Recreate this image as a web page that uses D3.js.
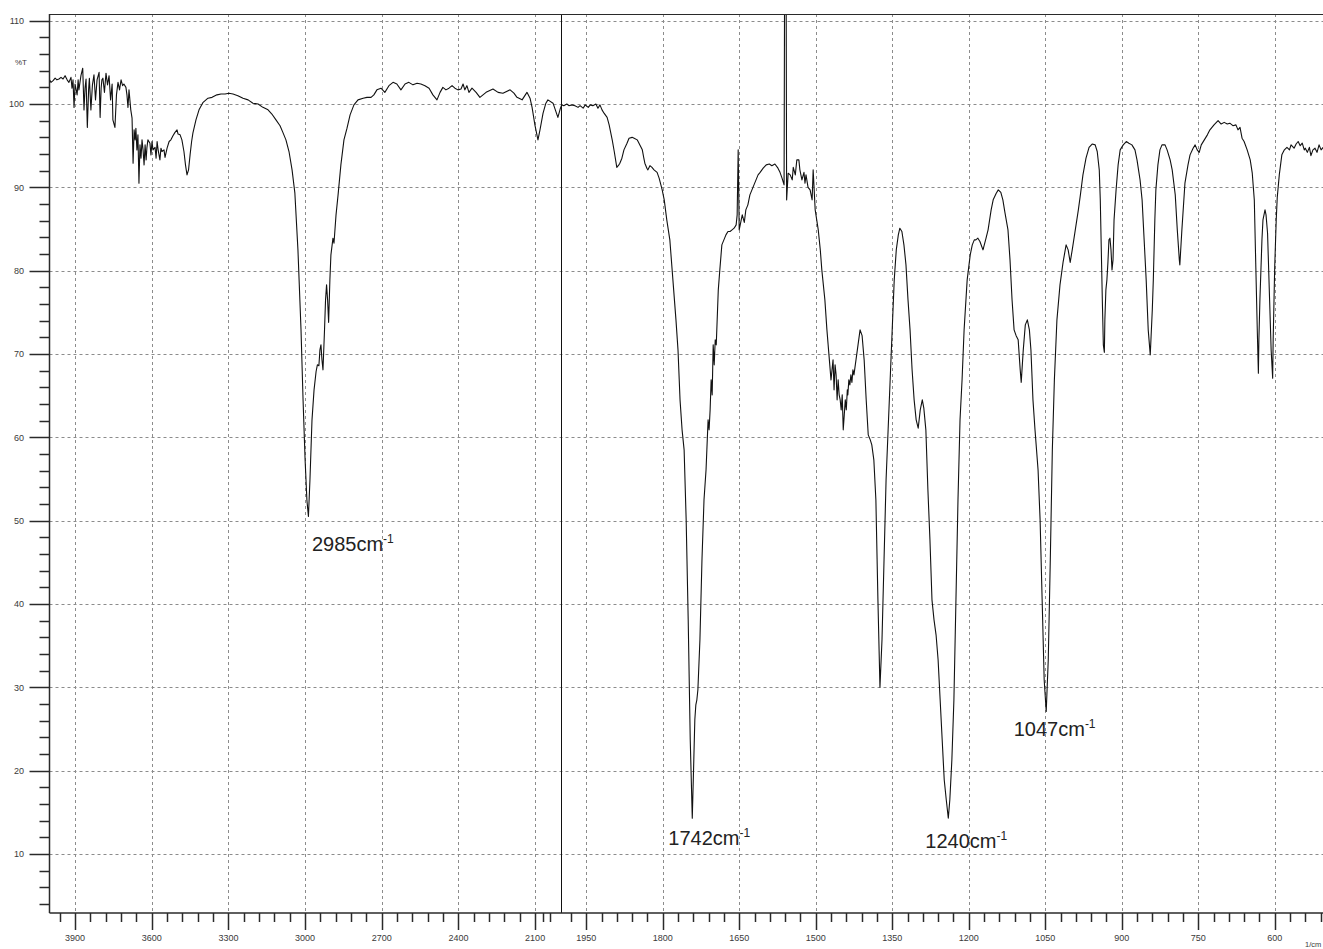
<!DOCTYPE html>
<html>
<head>
<meta charset="utf-8">
<script src="https://cdn.jsdelivr.net/npm/d3@7"></script>
<style>
  html, body { margin: 0; padding: 0; background: #fff; }
  svg { display: block; }
  text { font-family: "Liberation Sans", Arial, sans-serif; }
</style>
</head>
<body>
<svg id="chart" width="1323" height="949"></svg>
<script>
// ---------------- data ----------------
const wavenumber = [
4000,3994,3986,3978,3971,3963,3955,3947,3939,3931,3924,3916,3912,3908,3904,3900,3892,3888,3885,3877,
3870,3865,3861,3857,3852,3847,3844,3838,3832,3826,3820,3814,3806,3802,3798,3795,3791,3785,3779,3773,
3767,3761,3755,3752,3744,3738,3732,3726,3720,3714,3709,3701,3697,3693,3689,3682,3677,3673,3669,3665,
3662,3658,3654,3650,3646,3642,3638,3634,3630,3626,3622,3619,3615,3607,3603,3599,3595,3587,3583,3579,
3575,3568,3564,3560,3552,3548,3540,3532,3525,3517,3509,3501,3497,3489,3482,3474,3468,3462,3456,3450,
3444,3439,3427,3415,3399,3380,3364,3345,3329,3313,3298,3282,3263,3243,3223,3204,3184,3165,3145,3130,
3114,3098,3087,3075,3063,3051,3040,3028,3016,3008,3000,2993,2987,2981,2973,2965,2957,2952,2946,2942,
2938,2934,2930,2924,2920,2916,2912,2908,2903,2899,2891,2887,2879,2871,2860,2848,2836,2824,2809,2793,
2773,2758,2742,2731,2719,2703,2688,2672,2656,2641,2625,2609,2594,2578,2562,2547,2531,2515,2500,2484,
2472,2461,2449,2437,2425,2414,2402,2390,2382,2375,2367,2359,2347,2331,2316,2292,2265,2245,2226,2198,
2183,2171,2151,2132,2120,2112,2101,2089,2081,2069,2058,2050,2030,2011,2001,
1998,1994,1988,1984,1978,1972,1966,1962,1956,1952,1946,1942,1937,1931,1927,1923,1919,1915,1909,1905,
1899,1895,1890,1886,1884,1880,1876,1870,1866,1860,1856,1850,1844,1840,1837,1835,1831,1829,1825,1821,
1817,1811,1807,1801,1797,1792,1786,1780,1774,1770,1766,1762,1758,1754,1750,1746,1742,1739,1737,1735,
1733,1731,1727,1723,1719,1715,1711,1709,1707,1705,1703,1701,1699,1697,1695,1691,1688,1684,1680,1676,
1672,1668,1664,1660,1656,1654,1652,1650,1648,1644,1640,1637,1633,1629,1625,1621,1617,1613,1609,1603,
1597,1591,1586,1580,1574,1570,1566,1562,1561,1558,1557,1554,1550,1546,1544,1540,1537,1533,1531,1527,
1523,1521,1519,1515,1511,1507,1505,1501,1495,1491,1488,1482,1478,1474,1470,1468,1466,1464,1462,1460,
1458,1456,1454,1452,1450,1448,1446,1444,1442,1440,1438,1437,1435,1433,1431,1429,1427,1425,1421,1417,
1413,1409,1405,1401,1397,1393,1390,1386,1382,1378,1374,1370,1366,1362,1358,1354,1350,1346,1342,1338,
1335,1331,1327,1323,1319,1315,1311,1307,1303,1299,1295,1291,1288,1284,1280,1276,1272,1268,1264,1260,
1256,1252,1248,1244,1240,1237,1233,1229,1225,1221,1217,1213,1209,1203,1197,1193,1189,1186,1182,1178,
1172,1166,1162,1156,1152,1146,1142,1137,1133,1129,1123,1119,1115,1111,1107,1103,1099,1097,1093,1089,
1085,1081,1078,1074,1070,1064,1060,1056,1052,1048,1044,1040,1036,1032,1027,1021,1015,1009,1005,1001,
997,991,985,981,976,970,964,958,952,948,944,942,940,938,936,934,933,931,929,927,
925,923,921,919,917,915,911,907,903,897,891,886,880,874,870,864,860,856,852,848,
844,840,838,835,833,829,825,821,815,811,805,801,795,791,787,786,782,776,770,766,
760,756,752,748,744,738,732,727,719,711,705,699,693,688,682,676,672,668,664,660,
654,648,644,640,637,634,632,631,629,625,623,619,617,614,610,607,604,603,600,597,
595,591,586,581,576,571,568,562,558,554,550,546,542,540,536,532,529,525,521,517,
513,509,505
];
const transmittance = [
102.9,102.6,102.8,103.1,102.9,103.0,103.2,103.0,103.4,102.9,102.6,103.2,101.9,102.9,99.6,102.4,101.1,102.9,101.7,103.4,
104.3,99.3,101.9,103.0,97.2,101.7,103.1,99.3,102.3,103.5,100.5,102.9,103.8,98.4,101.9,102.9,103.1,101.4,103.7,102.3,
103.4,100.5,102.4,98.1,97.2,101.1,102.6,101.7,102.9,102.2,102.4,102.0,101.1,99.6,101.7,99.3,98.3,92.9,96.9,95.7,
97.1,94.5,96.3,90.5,95.1,93.5,95.7,94.5,92.7,95.1,93.3,94.7,95.7,95.3,93.9,95.5,94.5,94.8,93.5,95.5,
94.5,93.3,94.7,94.3,94.5,93.6,94.7,95.5,95.7,96.2,96.6,96.9,96.4,96.3,95.7,94.3,92.7,91.5,92.1,93.9,
95.5,96.5,98.1,99.3,100.2,100.7,100.8,101.1,101.2,101.2,101.3,101.2,101.0,100.7,100.5,100.1,100.0,99.6,99.3,98.8,
98.1,97.4,96.6,95.7,94.3,92.1,89.3,82.5,72.9,64.5,57.3,52.5,50.5,54.9,62.1,65.7,67.9,68.7,68.6,70.5,
71.1,69.3,68.1,72.9,76.5,78.3,76.5,73.8,78.9,81.9,83.9,83.3,86.7,89.1,92.7,95.7,97.1,98.7,99.9,100.5,
100.7,100.8,100.8,101.1,101.7,101.9,101.4,102.2,102.6,102.4,101.7,102.4,102.6,102.3,102.5,102.4,102.2,101.9,101.1,100.5,
101.4,102.0,101.7,101.9,102.2,101.9,101.7,101.8,102.4,101.7,102.2,101.4,101.9,101.4,100.8,101.4,101.8,101.4,101.3,101.7,
101.3,100.8,100.5,101.4,100.7,99.6,97.5,95.7,96.9,98.9,100.1,100.5,100.1,98.4,99.5,
99.9,99.8,100.0,99.8,99.9,99.8,99.6,99.8,99.5,99.9,99.6,99.9,99.8,100.0,99.5,99.9,99.3,98.9,98.4,97.5,
95.7,94.3,92.4,92.7,92.9,93.5,94.5,95.3,95.9,96.0,95.9,95.7,95.0,94.5,93.5,92.9,92.3,92.1,92.6,92.4,
92.1,91.8,91.1,89.7,88.5,86.1,83.7,78.9,74.1,70.5,64.5,60.9,58.5,50.1,38.1,23.7,14.3,21.3,26.1,27.9,
28.5,29.7,35.7,45.3,52.5,56.1,62.1,60.9,63.3,66.9,65.1,71.1,68.7,71.7,71.1,77.7,80.1,83.1,83.7,84.3,
84.7,84.7,84.9,85.1,85.5,86.7,94.5,84.9,85.5,86.7,85.8,87.3,87.9,89.1,89.7,90.3,90.9,91.5,91.8,92.3,
92.7,92.8,92.6,92.8,92.3,91.8,91.1,90.3,115,115,88.5,91.7,91.5,90.9,92.4,91.5,93.3,93.3,92.1,90.9,
91.8,90.5,91.5,90.0,89.7,88.5,92.1,87.3,84.9,82.5,80.1,76.5,72.9,69.9,66.9,68.1,69.3,65.7,68.7,67.5,
64.5,66.9,65.1,64.5,63.3,65.1,60.9,62.7,64.5,63.3,65.7,65.1,66.9,66.3,67.5,66.6,68.1,67.5,69.3,71.1,
72.9,72.2,69.3,64.5,60.3,59.7,59.1,57.3,52.5,40.5,30.0,35.7,45.3,54.9,60.9,66.9,72.9,78.9,82.5,84.3,
85.1,84.7,83.1,80.7,76.5,72.9,68.1,64.5,62.1,61.1,63.3,64.5,63.5,60.9,53.7,47.7,40.5,38.1,36.3,33.3,
28.5,23.7,18.9,16.5,14.3,16.5,21.3,28.5,40.5,52.5,62.1,66.9,72.9,78.9,81.9,83.1,83.7,83.7,83.9,83.5,
82.5,83.9,84.9,87.3,88.5,89.3,89.7,89.4,88.5,87.0,84.9,81.3,76.5,72.9,72.2,71.7,68.1,66.6,70.5,73.5,
74.1,72.9,70.5,64.5,60.9,56.1,50.1,40.5,30.9,27.1,33.3,45.3,58.5,66.9,74.1,78.3,81.0,83.1,82.5,81.0,
82.5,84.9,87.3,89.1,91.5,93.5,94.8,95.2,95.1,94.3,92.1,88.5,82.5,76.5,71.1,70.2,74.1,77.7,78.9,81.0,
83.7,83.9,82.5,80.1,81.3,86.1,89.7,92.7,94.5,95.1,95.5,95.3,95.1,94.5,93.3,90.9,88.5,83.7,78.9,72.9,
69.9,75.3,78.9,86.1,89.7,92.7,94.5,95.1,95.1,94.5,93.3,92.1,89.1,84.9,81.3,80.7,84.9,90.5,92.7,93.9,
94.7,95.1,94.5,94.2,95.1,95.7,96.3,96.9,97.5,98.0,97.6,97.8,97.6,97.7,97.4,97.5,96.9,97.2,95.9,95.5,
94.5,93.3,91.7,88.5,80.4,72.5,67.7,71.7,76.5,83.7,86.1,87.3,86.7,84.5,76.5,70.5,67.1,71.7,80.4,86.1,
88.8,91.5,93.9,94.5,94.8,94.5,95.1,94.7,95.2,95.5,95.0,95.3,94.5,94.7,94.2,94.8,93.8,94.5,94.7,94.2,
95.1,94.5,94.8
];

// axis tick values
const xMajorTicks = [3900,3600,3300,3000,2700,2400,2100,1950,1800,1650,1500,1350,1200,1050,900,750,600];
const xMinorTicks = [3960,3840,3780,3720,3660,3540,3480,3420,3360,3240,3180,3120,3060,2940,2880,2820,2760,
  2640,2580,2520,2460,2340,2280,2220,2160,2070,2040,
  1980,1920,1890,1860,1830,1770,1740,1710,1680,1620,1590,1560,1530,1470,1440,1410,1380,
  1320,1290,1260,1230,1170,1140,1110,1080,1020,990,960,930,870,840,810,780,720,690,660,630,570,540,510];
const yMajorTicks = [110,100,90,80,70,60,50,40,30,20,10];
const yMinorTicks = [108,106,104,102,98,96,94,92,88,86,84,82,78,76,74,72,68,66,64,62,58,56,54,52,
  48,46,44,42,38,36,34,32,28,26,24,22,18,16,14,12,8,6,4];
const breakWavenumber = 2000;

// peak annotations
const peakWavenumbers = [2985, 1742, 1240, 1047];
const peakValues = [50.5, 14.3, 14.3, 27.1];
// label layout (pixel offsets from the peak point)
const peakLabelOffsets = [[3, 35], [-24, 27], [-23, 30], [-33, 25]];

// ---------------- layout ----------------
const svg = d3.select("#chart");
const plotLeft = 49.5, plotTop = 14, plotBottom = 913, plotRight = 1323;

const x = d3.scaleLinear().domain([4000, 2000, 500]).range([49.5, 560.7, 1325.7]);
const y = d3.scaleLinear().domain([0, 110]).range([937.3, 20.7]);

const gridColor = "#8c8c8c";
const axisColor = "#2a2a2a";
const textColor = "#3a3a3a";

svg.append("defs").append("clipPath").attr("id", "plotClip")
  .append("rect").attr("x", plotLeft).attr("y", plotTop)
  .attr("width", plotRight - plotLeft + 5).attr("height", plotBottom - plotTop);

// grid
const grid = svg.append("g");
grid.selectAll("line.vg").data(xMajorTicks).enter().append("line")
  .attr("x1", d => Math.round(x(d)) + 0.5).attr("x2", d => Math.round(x(d)) + 0.5)
  .attr("y1", plotTop).attr("y2", plotBottom)
  .attr("stroke", gridColor).attr("stroke-width", 1).attr("stroke-dasharray", "3,3");
grid.selectAll("line.hg").data(yMajorTicks).enter().append("line")
  .attr("x1", plotLeft).attr("x2", plotRight)
  .attr("y1", d => Math.round(y(d)) + 0.5).attr("y2", d => Math.round(y(d)) + 0.5)
  .attr("stroke", gridColor).attr("stroke-width", 1).attr("stroke-dasharray", "3,3");

// break line at 2000
svg.append("line")
  .attr("x1", Math.round(x(breakWavenumber)) + 0.5).attr("x2", Math.round(x(breakWavenumber)) + 0.5)
  .attr("y1", plotTop).attr("y2", plotBottom)
  .attr("stroke", "#111").attr("stroke-width", 1);

// spectrum
const pts = wavenumber.map((w, i) => [w, transmittance[i]]);
const line = d3.line().x(d => x(d[0])).y(d => y(d[1]));
svg.append("path").datum(pts)
  .attr("clip-path", "url(#plotClip)")
  .attr("d", line)
  .attr("fill", "none").attr("stroke", "#111").attr("stroke-width", 1.1)
  .attr("stroke-linejoin", "round");

// frame: top border, left axis, bottom axis
svg.append("line").attr("x1", plotLeft).attr("x2", plotRight).attr("y1", plotTop + 0.5).attr("y2", plotTop + 0.5)
  .attr("stroke", axisColor).attr("stroke-width", 1.2);
svg.append("line").attr("x1", plotLeft).attr("x2", plotLeft).attr("y1", plotTop).attr("y2", plotBottom)
  .attr("stroke", axisColor).attr("stroke-width", 1.5);
svg.append("line").attr("x1", plotLeft).attr("x2", plotRight).attr("y1", plotBottom).attr("y2", plotBottom)
  .attr("stroke", axisColor).attr("stroke-width", 1.5);

// y ticks
const yAx = svg.append("g");
yAx.selectAll("line.ymaj").data(yMajorTicks).enter().append("line")
  .attr("x1", plotLeft - 20).attr("x2", plotLeft)
  .attr("y1", d => Math.round(y(d)) + 0.5).attr("y2", d => Math.round(y(d)) + 0.5)
  .attr("stroke", axisColor).attr("stroke-width", 1.5);
yAx.selectAll("line.ymin").data(yMinorTicks).enter().append("line")
  .attr("x1", plotLeft - 10).attr("x2", plotLeft)
  .attr("y1", d => Math.round(y(d)) + 0.5).attr("y2", d => Math.round(y(d)) + 0.5)
  .attr("stroke", axisColor).attr("stroke-width", 1.5);
yAx.selectAll("text").data(yMajorTicks).enter().append("text")
  .attr("x", 24).attr("y", d => y(d) + 3.2)
  .attr("text-anchor", "end").attr("font-size", 9).attr("fill", textColor)
  .text(d => d);
svg.append("text").attr("x", 15).attr("y", 65).attr("font-size", 8).attr("fill", textColor).text("%T");

// x ticks
const xAx = svg.append("g");
xAx.selectAll("line.xmaj").data(xMajorTicks).enter().append("line")
  .attr("x1", d => Math.round(x(d)) + 0.5).attr("x2", d => Math.round(x(d)) + 0.5)
  .attr("y1", plotBottom).attr("y2", plotBottom + 17)
  .attr("stroke", axisColor).attr("stroke-width", 1.5);
xAx.selectAll("line.xmin").data(xMinorTicks).enter().append("line")
  .attr("x1", d => Math.round(x(d)) + 0.5).attr("x2", d => Math.round(x(d)) + 0.5)
  .attr("y1", plotBottom).attr("y2", plotBottom + 9)
  .attr("stroke", axisColor).attr("stroke-width", 1.5);
xAx.selectAll("text").data(xMajorTicks).enter().append("text")
  .attr("x", d => x(d)).attr("y", 940.5)
  .attr("text-anchor", "middle").attr("font-size", 9).attr("fill", textColor)
  .text(d => d);
svg.append("text").attr("x", 1305).attr("y", 947).attr("font-size", 7.5).attr("fill", textColor).text("1/cm");

// peak labels
const lab = svg.append("g");
peakWavenumbers.forEach((w, i) => {
  const t = lab.append("text")
    .attr("x", x(w) + peakLabelOffsets[i][0])
    .attr("y", y(peakValues[i]) + peakLabelOffsets[i][1])
    .attr("font-size", 20).attr("fill", "#222");
  t.append("tspan").text(w + "cm");
  t.append("tspan").attr("dy", -8).attr("font-size", 12).text("-1");
});
</script>
</body>
</html>
